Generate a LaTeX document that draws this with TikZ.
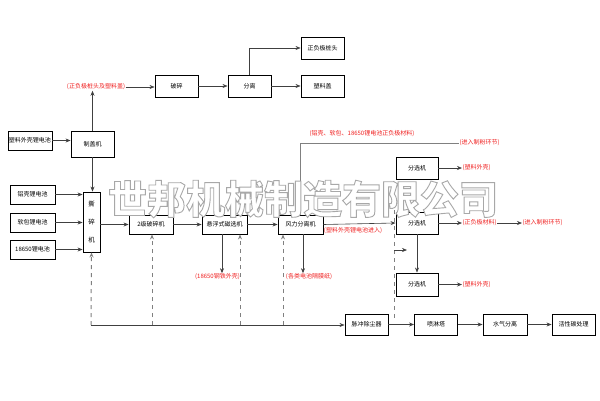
\documentclass[tikz,border=0pt]{standalone}
\usepackage{fontspec}
\newfontfamily\cjk{Noto Sans CJK SC}
\usetikzlibrary{arrows.meta}
\definecolor{lred}{HTML}{F02020}
\definecolor{lgray}{HTML}{404040}
\begin{document}
\begin{tikzpicture}[x=1pt,y=-1pt,
 box/.style={draw=black,line width=0.9pt,minimum width=43pt,minimum height=21pt,inner sep=0pt,font=\cjk\fontsize{6}{7}\selectfont},
 lab/.style={text=lred,inner sep=0.5pt,font=\cjk\fontsize{6}{7}\selectfont},
 arr/.style={draw=lgray,line width=0.6pt,-{Stealth[length=5pt,width=4pt]}},
 dsh/.style={draw=gray,line width=1pt,dash pattern=on 4pt off 4pt,-{Stealth[length=5pt,width=4pt]}},
 dshline/.style={draw=gray,line width=1pt,dash pattern=on 4pt off 4pt},
 ln/.style={draw=gray,line width=0.6pt},
 wm/.style={font=\cjk\bfseries\fontsize{39}{39}\selectfont,inner sep=0pt}]
\fill[white] (0,0) rectangle (600,400);
\useasboundingbox (0,0) rectangle (600,400);
% top branch
\node[box,minimum width=44pt,minimum height=19pt] (b1) at (30,140.5) {塑料外壳锂电池};
\node[box,minimum height=26pt] (zg) at (92.5,144) {制盖机};
\node[lab] (l1) at (96,87) {(正负极桩头及塑料盖)};
\node[box,minimum height=22pt] (ps) at (176.5,86) {破碎};
\node[box,minimum height=22pt] (fl) at (249.5,86) {分离};
\node[box,minimum height=22pt] (zf) at (322.5,48) {正负极桩头};
\node[box,minimum height=22pt] (sl) at (322.5,86) {塑料盖};
% batteries
\node[box,minimum width=45pt,minimum height=19pt] (a1) at (32.5,194.5) {铝壳锂电池};
\node[box,minimum width=45pt,minimum height=19pt] (a2) at (32.5,222.5) {软包锂电池};
\node[box,minimum width=45pt,minimum height=19pt] (a3) at (32.5,249.5) {18650锂电池};
\node[box,minimum width=17pt,minimum height=60pt,align=center,font=\cjk\fontsize{6.5}{18}\selectfont] (ss) at (91.5,222) {撕\\碎\\机};
\node[box,minimum width=44pt,minimum height=19pt] (p2) at (151,224.5) {2级破碎机};
\node[box,minimum width=45pt,minimum height=19pt] (xf) at (224.5,224.5) {悬浮式磁选机};
\node[box,minimum width=45pt,minimum height=19pt] (fx) at (300.5,224.5) {风力分离机};
\node[box,minimum width=42pt,minimum height=22pt] (fs1) at (417,168) {分选机};
\node[box,minimum width=42pt,minimum height=22pt] (fs2) at (417,223) {分选机};
\node[box,minimum width=42pt,minimum height=23pt] (fs3) at (417,284.5) {分选机};
\node[lab,anchor=west] (lf1) at (462,168) {(塑料外壳)};
\node[lab,anchor=west] (lf2) at (462,223) {(正负极材料)};
\node[lab,anchor=west] (lf3) at (522,223) {(进入制粉环节)};
\node[lab,anchor=west] (lf4) at (462,284.5) {(塑料外壳)};
% bottom row
\node[box,minimum height=21pt] (mc) at (366.5,324.5) {脉冲除尘器};
\node[box,minimum height=21pt] (pl) at (436,324.5) {喷淋塔};
\node[box,minimum width=44pt,minimum height=21pt] (sq) at (505,324.5) {水气分离};
\node[box,minimum height=21pt] (hx) at (573.5,324.5) {活性碳处理};
% labels
\node[lab] (ltop) at (362,134) {(铝壳、软包、18650锂电池正负极材料)};
\node[lab,anchor=west] (ltr) at (459,143) {(进入制粉环节)};
\node[lab] (lmid) at (353,231) {(塑料外壳锂电池进入)};
\node[lab] (l18) at (217.5,277) {(18650钢铁外壳)};
\node[lab] (lge) at (309,277) {(各类电池隔膜纸)};
% connectors top
\draw[arr] (b1.east) -- (b1.east -| zg.west);
\draw[arr] (zg.north) -- (zg.north |- l1.south);
\draw[arr] (l1.east) -- (l1.east -| ps.west);
\draw[arr] (ps.east) -- (fl.west);
\draw[arr] (fl.east) -- (sl.west);
\draw[arr] (fl.north) |- (zf.west);
\draw[arr] (zg.south) -- (zg.south |- ss.north);
% batteries to shredder
\draw[arr] (a1.east) -- (a1.east -| ss.west);
\draw[arr] (a2.east) -- (a2.east -| ss.west);
\draw[arr] (a3.east) -- (a3.east -| ss.west);
\draw[arr] (p2.west -| ss.east) -- (p2.west);
\draw[arr] (p2.east) -- (xf.west);
\draw[arr] (xf.east) -- (fx.west);
\draw[arr] (fx.east) -- (fs2.west);
\draw[arr] ([xshift=-2.5pt]xf.south) -- ([xshift=-2.5pt]xf.south |- l18.north);
\draw[arr] ([xshift=2.5pt]fx.south) -- ([xshift=2.5pt]fx.south |- lge.north);
\draw[ln] (fx.north) |- (ltr.west);
% sorters
\draw[arr] (fs1.east) -- (lf1.west);
\draw[arr] (fs2.east) -- (lf2.west);
\draw[arr] (lf2.east) -- (lf3.west);
\draw[arr] (fs3.east) -- (lf4.west);
\draw[arr] (fs2.south) -- (fs3.north);
% dust lines
\coordinate (c0) at (91,325);
\coordinate (c1) at (152,325);
\coordinate (c2) at (240,325);
\coordinate (c3) at (283,325);
\draw[dsh] (c0) -- (ss.south);
\draw[dsh] (c1) -- (c1 |- p2.south);
\draw[dsh] (c2) -- (c2 |- xf.south);
\draw[dsh] (c3) -- (c3 |- fx.south);
\draw[arr] (c0) -- (c0 -| mc.west);
\coordinate (d0) at (394,210);
\coordinate (d1) at (394,318);
\coordinate (d2) at (394,250);
\coordinate (d3) at (407,250);
\draw[dshline] (d0) -- (d1);
\draw[arr] (d2) -- (d3);
% bottom row connectors
\draw[arr] (mc.east) -- (pl.west);
\draw[arr] (pl.east) -- (sq.west);
\draw[arr] (sq.east) -- (hx.west);
% watermark: white fill, grey stroked outline
\node[wm] (wmk) at (303,199) {\special{pdf:literal direct 2 Tr 0.9 w 1 1 1 rg 0.66 0.66 0.66 RG}世邦机械制造有限公司\special{pdf:literal direct 0 Tr}};
\end{tikzpicture}
\end{document}
